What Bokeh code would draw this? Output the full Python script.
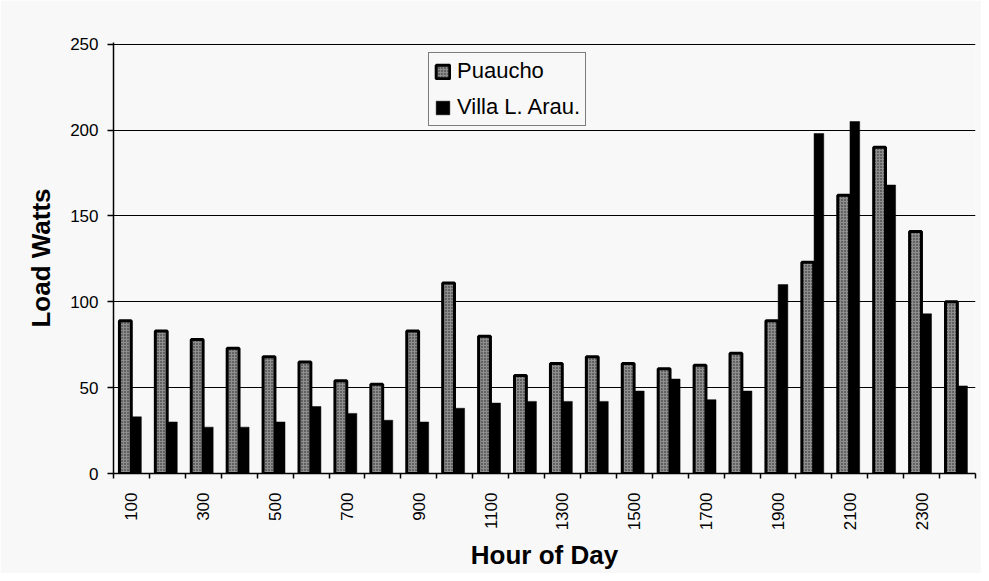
import numpy as np
from bokeh.plotting import figure
from bokeh.models import ColumnDataSource, FixedTicker, Range1d, Legend, LegendItem
from bokeh.transform import dodge
from bokeh.embed import file_html
from bokeh.resources import INLINE

hours = [100, 200, 300, 400, 500, 600, 700, 800, 900, 1000, 1100, 1200,
         1300, 1400, 1500, 1600, 1700, 1800, 1900, 2000, 2100, 2200, 2300, 2400]
puaucho = [89, 83, 78, 73, 68, 65, 54, 52, 83, 111, 80, 57,
           64, 68, 64, 61, 63, 70, 89, 123, 162, 190, 141, 100]
villa = [33, 30, 27, 27, 30, 39, 35, 31, 30, 38, 41, 42,
         42, 42, 48, 55, 43, 48, 110, 198, 205, 168, 93, 51]
tick_labels = ["100", "300", "500", "700", "900", "1100", "1300", "1500",
               "1700", "1900", "2100", "2300"]
y_ticks = [0, 50, 100, 150, 200, 250]

FONT = "Liberation Sans"
BG = "#f8f8f8"

pos = list(range(1, len(hours) + 1))
src = ColumnDataSource(dict(x=pos, hour=hours, p=puaucho, v=villa))

p = figure(width=981, height=573, output_backend="svg", toolbar_location=None,
           x_range=Range1d(0.5, len(hours) + 0.5), y_range=Range1d(0, 251),
           min_border_left=113, min_border_right=6, min_border_top=42,
           min_border_bottom=100, background_fill_color=BG, border_fill_color=BG)
p.outline_line_color = None

r1 = p.vbar(x=dodge("x", -0.17), top="p", width=0.33, source=src,
            fill_color="#8e8e8e", line_color="black", line_width=3,
            hatch_pattern="dot", hatch_color="#202020", hatch_scale=3, hatch_weight=1)
r2 = p.vbar(x=dodge("x", 0.14), top="v", width=0.27, source=src,
            fill_color="black", line_color="black", line_width=0.5)

# x axis
label_pos = [pos[hours.index(int(t))] for t in tick_labels]
bounds = [x - 0.5 for x in pos] + [pos[-1] + 0.5]
p.xaxis.ticker = FixedTicker(ticks=label_pos, minor_ticks=bounds)
p.xaxis.major_label_overrides = {lp: t for lp, t in zip(label_pos, tick_labels)}
p.xaxis.major_tick_out = 0
p.xaxis.major_tick_in = 0
p.xaxis.minor_tick_out = 5
p.xaxis.minor_tick_in = 0
p.xaxis.minor_tick_line_color = "black"
p.xaxis.minor_tick_line_width = 1.5
p.xaxis.major_label_orientation = np.pi / 2
p.xaxis.major_label_standoff = 14
p.xaxis.axis_label = "Hour of Day"
p.xaxis.axis_label_standoff = 7

# y axis
p.yaxis.ticker = FixedTicker(ticks=y_ticks, minor_ticks=[])
p.yaxis.major_tick_out = 6
p.yaxis.major_tick_in = 0
p.yaxis.major_label_standoff = 9
p.yaxis.axis_label = "Load Watts"
p.yaxis.axis_label_standoff = 11

for ax in (p.xaxis, p.yaxis):
    ax.axis_line_color = "black"
    ax.axis_line_width = 1.5
    ax.major_tick_line_color = "black"
    ax.major_tick_line_width = 1.5
    ax.major_label_text_font = FONT
    ax.major_label_text_font_size = "17px"
    ax.major_label_text_color = "black"
    ax.axis_label_text_font = FONT
    ax.axis_label_text_font_size = "26px"
    ax.axis_label_text_font_style = "bold"
    ax.axis_label_text_color = "black"

p.xgrid.grid_line_color = None
p.ygrid.ticker = FixedTicker(ticks=y_ticks)
p.ygrid.grid_line_color = "black"
p.ygrid.grid_line_width = 1.2

legend = Legend(items=[LegendItem(label="Puaucho", renderers=[r1]),
                       LegendItem(label="Villa L. Arau.", renderers=[r2])],
                location=(315, 347), orientation="vertical")
legend.label_text_font = FONT
legend.label_text_font_size = "22px"
legend.label_text_color = "black"
legend.glyph_width = 17
legend.glyph_height = 17
legend.label_height = 22
legend.label_standoff = 6
legend.spacing = 10
legend.padding = 5
legend.margin = 0
legend.border_line_color = "black"
legend.border_line_width = 1.5
legend.background_fill_color = BG
legend.background_fill_alpha = 1
p.add_layout(legend)

open("out.html", "w").write(file_html(p, INLINE))
